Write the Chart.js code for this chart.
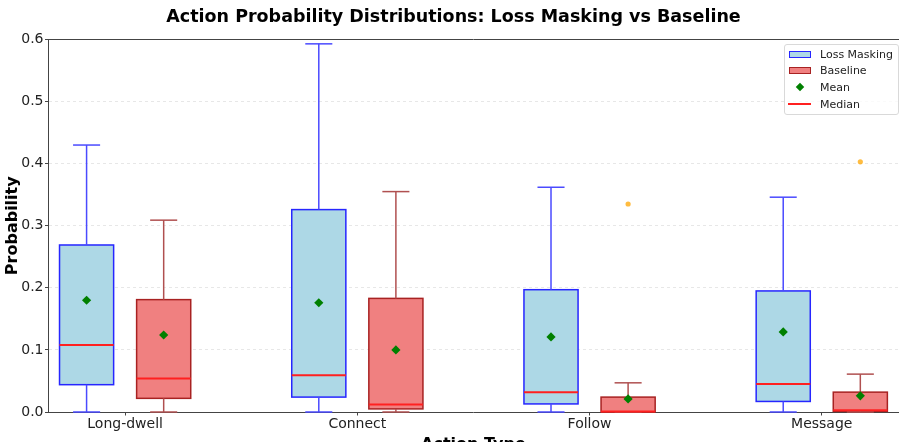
<!DOCTYPE html>
<html>
<head>
<meta charset="utf-8">
<title>Action Probability Distributions</title>
<script src="https://cdn.jsdelivr.net/npm/chart.js@4.4.1/dist/chart.umd.min.js"></script>
<style>
  body { margin: 0; background: #fff; overflow: hidden; }
  #wrap { position: relative; width: 903px; height: 460px; }
  #legend {
    position: absolute; left: 784px; top: 44px; width: 113px; height: 68px;
    border: 1px solid #d9d9d9; border-radius: 3px; background: rgba(255,255,255,0.8);
    font: 11px 'DejaVu Sans', sans-serif; color: #222; padding-top: 1px; box-sizing: content-box;
  }
  #legend .row { display: flex; align-items: center; height: 16.6px; }
  #legend .key { width: 23px; margin-left: 3px; margin-right: 9px; display: flex; align-items: center; justify-content: center; height: 10px; }
  #legend .patch { width: 20px; height: 5px; }
  #legend .diamond { width: 6px; height: 6px; background: #008000; transform: rotate(45deg); }
  #legend .line { width: 23px; height: 2px; background: #ff2020; }
</style>
</head>
<body>
<div id="wrap">
  <canvas id="boxChart"></canvas>
  <div id="legend"></div>
</div>
<script>
// categories on the x axis
const categories = ['Long-dwell', 'Connect', 'Follow', 'Message'];

// Loss Masking box statistics
const lmLow = [0, 0, 0, 0];
const lmQ1 = [0.044, 0.024, 0.013, 0.017];
const lmMedian = [0.108, 0.059, 0.032, 0.045];
const lmQ3 = [0.269, 0.326, 0.197, 0.195];
const lmHigh = [0.430, 0.593, 0.362, 0.346];
const lmMean = [0.180, 0.176, 0.121, 0.129];
const lmOutliers = [[], [], [], []];

// Baseline box statistics
const blLow = [0, 0, 0, 0];
const blQ1 = [0.022, 0.005, 0, 0.001];
const blMedian = [0.054, 0.012, 0.001, 0.003];
const blQ3 = [0.181, 0.183, 0.024, 0.032];
const blHigh = [0.309, 0.355, 0.047, 0.061];
const blMean = [0.124, 0.100, 0.021, 0.026];
const blOutliers = [[], [], [0.335], [0.403]];

const yTicks = [0, 0.1, 0.2, 0.3, 0.4, 0.5, 0.6];

const offset = 0.166;
const boxWidth = 0.233;

const groups = [
  { label: 'Loss Masking', shift: -offset, low: lmLow, q1: lmQ1, median: lmMedian, q3: lmQ3, high: lmHigh,
    fill: '#add8e6', edge: '#2626ff', whisker: '#4a4aff' },
  { label: 'Baseline', shift: offset, low: blLow, q1: blQ1, median: blMedian, q3: blQ3, high: blHigh,
    fill: '#f08080', edge: '#a82222', whisker: '#b05050' },
];

Chart.defaults.font.family = "'DejaVu Sans', sans-serif";
Chart.defaults.color = '#222';

function line(ctx, x1, y1, x2, y2) {
  ctx.beginPath();
  ctx.moveTo(x1, y1);
  ctx.lineTo(x2, y2);
  ctx.stroke();
}

// boxes, whiskers, caps and medians drawn through the chart's scales
const boxPlugin = {
  id: 'boxes',
  beforeDatasetsDraw(chart) {
    const { ctx, scales: { x, y } } = chart;
    ctx.save();
    groups.forEach((g) => {
      categories.forEach((c, i) => {
        const pos = i + g.shift;
        const cx = x.getPixelForValue(pos);
        const left = x.getPixelForValue(pos - boxWidth / 2);
        const right = x.getPixelForValue(pos + boxWidth / 2);
        const capHalf = (right - left) / 4;
        const top = y.getPixelForValue(g.q3[i]);
        const bottom = y.getPixelForValue(g.q1[i]);

        ctx.fillStyle = g.fill;
        ctx.fillRect(left, top, right - left, bottom - top);
        ctx.strokeStyle = g.edge;
        ctx.lineWidth = 1.5;
        ctx.strokeRect(left, top, right - left, bottom - top);

        ctx.strokeStyle = g.whisker;
        ctx.lineWidth = 1.5;
        const yHigh = y.getPixelForValue(g.high[i]);
        const yLow = y.getPixelForValue(g.low[i]);
        line(ctx, cx, top, cx, yHigh);
        line(ctx, cx, bottom, cx, yLow);
        line(ctx, cx - capHalf, yHigh, cx + capHalf, yHigh);
        line(ctx, cx - capHalf, yLow, cx + capHalf, yLow);

        ctx.strokeStyle = '#ff2020';
        ctx.lineWidth = 2;
        const yMed = y.getPixelForValue(g.median[i]);
        line(ctx, left, yMed, right, yMed);
      });
    });
    ctx.restore();
  },
};

const meanPoints = (means, shift) => means.map((v, i) => ({ x: i + shift, y: v }));
const outlierPoints = (lists, shift) => lists.flatMap((vals, i) => vals.map((v) => ({ x: i + shift, y: v })));

const ctx = document.getElementById('boxChart').getContext('2d');
const chart = new Chart(ctx, {
  type: 'scatter',
  data: {
    datasets: [
      { label: 'Loss Masking outliers', data: outlierPoints(lmOutliers, -offset), pointStyle: 'circle', radius: 2.6,
        backgroundColor: 'rgba(255,165,0,0.75)', borderWidth: 0 },
      { label: 'Baseline outliers', data: outlierPoints(blOutliers, offset), pointStyle: 'circle', radius: 2.6,
        backgroundColor: 'rgba(255,165,0,0.75)', borderWidth: 0 },
      { label: 'Mean', data: meanPoints(lmMean, -offset), pointStyle: 'rectRot', radius: 4.6,
        backgroundColor: '#008000', borderColor: '#008000', borderWidth: 0 },
      { label: 'Mean', data: meanPoints(blMean, offset), pointStyle: 'rectRot', radius: 4.6,
        backgroundColor: '#008000', borderColor: '#008000', borderWidth: 0 },
    ],
  },
  options: {
    responsive: true,
    maintainAspectRatio: false,
    animation: false,
    layout: { padding: { left: 4, right: 0, top: 0, bottom: 0 } },
    plugins: {
      legend: { display: false },
      tooltip: { enabled: false },
      title: {
        display: true,
        text: 'Action Probability Distributions: Loss Masking vs Baseline',
        font: { size: 17.5, weight: 'bold', lineHeight: 1.2 },
        color: '#000',
        padding: { top: 6.5, bottom: 12 },
      },
    },
    scales: {
      x: {
        type: 'linear',
        min: -0.33,
        max: 3.33,
        z: 1,
        afterBuildTicks: (scale) => { scale.ticks = categories.map((c, i) => ({ value: i })); },
        afterFit: (scale) => { scale.height = 48; },
        ticks: { callback: (v) => categories[v], font: { size: 14 }, color: '#222', padding: 0.5, maxRotation: 0 },
        grid: { drawOnChartArea: false, tickLength: 3.5, tickColor: '#444', tickWidth: 1 },
        border: { color: '#444', width: 1 },
        title: { display: true, text: 'Action Type', font: { size: 16, weight: 'bold' }, color: '#000',
          padding: { top: 0, bottom: 5.5 } },
      },
      x2: {
        type: 'linear',
        axis: 'x',
        position: 'top',
        min: -0.33,
        max: 3.33,
        afterFit: (scale) => { scale.height = 0; },
        ticks: { display: false },
        grid: { display: false, drawTicks: false },
        border: { color: '#444', width: 1 },
      },
      y: {
        min: 0,
        max: 0.6,
        afterBuildTicks: (scale) => { scale.ticks = yTicks.map((v) => ({ value: v })); },
        afterFit: (scale) => { scale.width = 44.5; },
        ticks: { callback: (v) => v.toFixed(1), font: { size: 14 }, color: '#222', padding: 1.5 },
        grid: {
          color: (c) => (c.tick && (c.tick.value < 1e-9 || c.tick.value > 0.6 - 1e-9) ? 'rgba(0,0,0,0)' : 'rgba(0,0,0,0.12)'),
          lineWidth: 0.8,
          tickLength: 3.5,
          tickColor: '#444',
          tickWidth: 1,
        },
        border: { color: '#444', width: 1, dash: [3, 3] },
        title: { display: true, text: 'Probability', font: { size: 16, weight: 'bold', lineHeight: 1 }, color: '#000',
          padding: { top: 0.5, bottom: 0 } },
      },
    },
  },
  plugins: [boxPlugin],
});

// html legend inside the plot area
const legendItems = [
  { text: groups[0].label, key: `<div class="patch" style="background:${groups[0].fill};border:1.5px solid ${groups[0].edge}"></div>` },
  { text: groups[1].label, key: `<div class="patch" style="background:${groups[1].fill};border:1.5px solid ${groups[1].edge}"></div>` },
  { text: 'Mean', key: '<div class="diamond"></div>' },
  { text: 'Median', key: '<div class="line"></div>' },
];
document.getElementById('legend').innerHTML = legendItems
  .map((it) => `<div class="row"><div class="key">${it.key}</div><span>${it.text}</span></div>`)
  .join('');
</script>
</body>
</html>
